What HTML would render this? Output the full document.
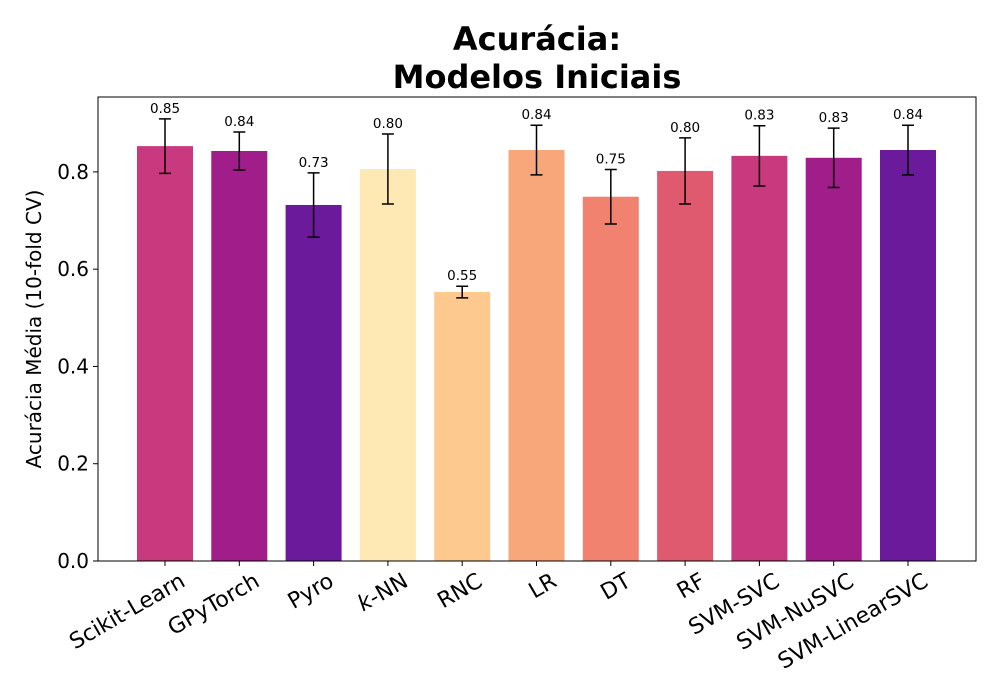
<!DOCTYPE html>
<html><head><meta charset="utf-8"><style>body{margin:0;background:#fff}svg{display:block;font-family:"DejaVu Sans","Liberation Sans",sans-serif}</style></head>
<body>
<svg id="chart" width="1000" height="700"></svg>
<script>
const categories=["Scikit-Learn","GPyTorch","Pyro","k-NN","RNC","LR","DT","RF","SVM-SVC","SVM-NuSVC","SVM-LinearSVC"];
const values=[0.853,0.843,0.732,0.806,0.553,0.845,0.749,0.802,0.833,0.829,0.845];
const errors=[0.056,0.039,0.066,0.072,0.012,0.051,0.056,0.068,0.062,0.061,0.051];
const valueLabels=["0.85","0.84","0.73","0.80","0.55","0.84","0.75","0.80","0.83","0.83","0.84"];
const colors=["#c8397d","#a11d8a","#6a1a9a","#fee8b4","#fdc98e","#f7a77a","#f0826f","#e05a6f","#c8397d","#a11d8a","#6a1a9a"];
const yTicks=[0,0.2,0.4,0.6,0.8];
const yTickLabels=["0.0","0.2","0.4","0.6","0.8"];
const NS="http://www.w3.org/2000/svg";
const svg=document.getElementById('chart');
const L=98,R=976,T=97,B=561,ymax=0.954;
const xs=i=>165+i*74.3;
const ys=v=>B-(v/ymax)*(B-T);
function el(tag,attrs,txt){const e=document.createElementNS(NS,tag);for(const k in attrs)e.setAttribute(k,attrs[k]);if(txt!==undefined)e.textContent=txt;svg.appendChild(e);return e;}
let t=el('text',{x:537,y:50,'text-anchor':'middle','font-size':32,'font-weight':'bold'},'Acurácia:');


t=el('text',{x:537,y:88,'text-anchor':'middle','font-size':32,'font-weight':'bold'},'Modelos Iniciais');


const bw=56;
categories.forEach((c,i)=>{
  const x=xs(i),v=values[i],e=errors[i];
  const r=el('rect',{x:x-bw/2,y:ys(v),width:bw,height:B-ys(v),fill:colors[i]});
  
  
  const g=el('path',{d:`M${x},${ys(v+e)}V${ys(v-e)}M${x-6},${ys(v+e)}H${x+6}M${x-6},${ys(v-e)}H${x+6}`,stroke:'#000','stroke-width':1.5,fill:'none'});
  
  
  const vl=el('text',{x:x,y:ys(v+e)-6,'text-anchor':'middle','font-size':13.5},valueLabels[i]);
  
  
  el('line',{x1:x,x2:x,y1:B,y2:B+5,stroke:'#000','stroke-width':1});
  const tl=el('text',{transform:`translate(${x+14},${B+11}) rotate(-30)`,'text-anchor':'end','font-size':22,'dominant-baseline':'hanging'},'');
  if(c==='k-NN'){const a=document.createElementNS(NS,'tspan');a.setAttribute('font-style','italic');a.textContent='k';tl.appendChild(a);tl.appendChild(document.createTextNode('-NN'));}else tl.textContent=c;
  
  
});
yTicks.forEach((v,i)=>{
  el('line',{x1:L-5,x2:L,y1:ys(v),y2:ys(v),stroke:'#000','stroke-width':1});
  const l=el('text',{x:L-9,y:ys(v)+7,'text-anchor':'end','font-size':20},yTickLabels[i]);
  
  
});
const f=el('rect',{x:L,y:T,width:R-L,height:B-T,fill:'none',stroke:'#000','stroke-width':1});


const yt=el('text',{transform:'translate(41,329) rotate(-90)','text-anchor':'middle','font-size':20},'Acurácia Média (10-fold CV)');


</script>
</body></html>
